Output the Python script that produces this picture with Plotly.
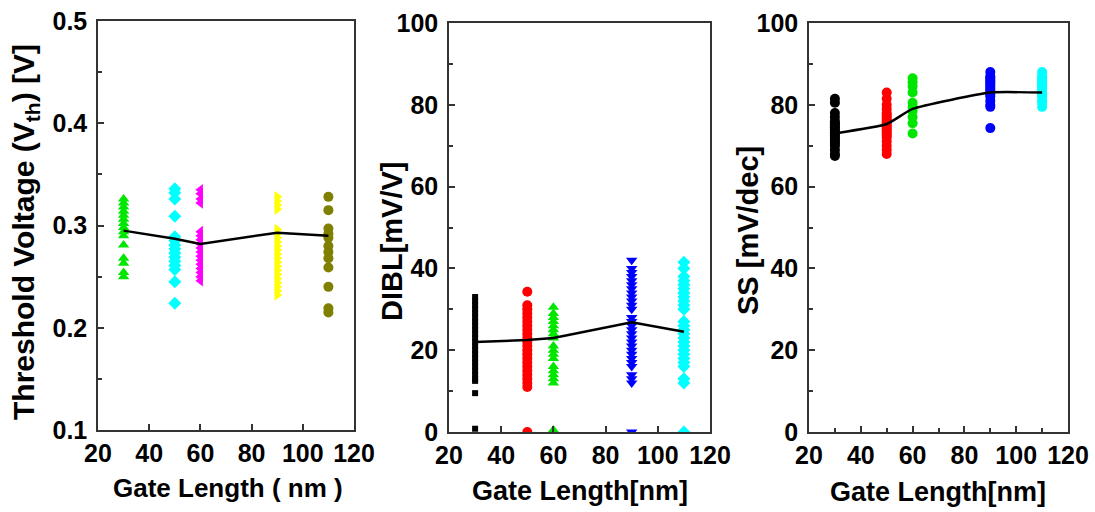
import plotly.graph_objects as go

# ---------------- data ----------------
gate_lengths = [30, 50, 60, 90, 110]

# Panel 1: threshold voltage (V)
vth_30 = [0.326, 0.322, 0.318, 0.314, 0.310, 0.306, 0.302, 0.298, 0.294, 0.290, 0.281, 0.268, 0.263, 0.254, 0.250]
vth_50 = [0.336, 0.332, 0.326, 0.309, 0.289, 0.285, 0.281, 0.277, 0.273, 0.269, 0.265, 0.261, 0.257, 0.245, 0.224]
vth_60 = [0.335, 0.331, 0.326, 0.322, 0.294, 0.290, 0.286, 0.282, 0.278, 0.274, 0.270, 0.266, 0.262, 0.258, 0.254, 0.250, 0.246]
vth_90 = [0.328, 0.324, 0.320, 0.316, 0.296, 0.292, 0.288, 0.284, 0.280, 0.276, 0.272, 0.268, 0.264, 0.260, 0.256,
          0.252, 0.248, 0.244, 0.240, 0.236, 0.232]
vth_110 = [0.328, 0.315, 0.297, 0.292, 0.288, 0.280, 0.274, 0.268, 0.259, 0.240, 0.219, 0.215]
vth_mean = [0.295, 0.287, 0.282, 0.293, 0.290]

# Panel 2: DIBL (mV/V)
dibl_30 = [33, 32, 31, 30, 29, 28, 27, 26, 25, 24, 23, 22, 21, 20, 19, 18, 17, 16, 15, 14, 13, 12.5, 9.5, 0.8]
dibl_50 = [34.3, 31, 30, 29, 28, 27, 26, 25, 24, 23, 22, 21, 20, 19, 18, 17, 16, 15, 14, 13, 12, 11, 0]
dibl_60 = [30.5, 29, 28, 27, 26, 25, 24, 23, 21, 20, 19, 18, 16, 15, 14, 13, 12, 0.5]
dibl_90 = [42, 40, 39, 38, 37, 36, 35, 34, 33, 32, 31, 30, 28, 27, 26, 25, 24, 23, 22, 21, 20, 19, 18, 17, 16,
           14, 13, 12, 0]
dibl_110 = [41.5, 40, 38, 37, 36, 35, 34, 33, 32, 31, 30, 27, 26, 25, 24, 23, 22, 21, 20, 19, 18, 17, 16, 13, 12, 0]
dibl_mean = [22, 22.5, 23, 26.8, 24.5]

# Panel 3: subthreshold swing (mV/dec)
ss_30 = [81.5, 80.5, 78, 77, 76, 75.5, 75, 74.5, 74, 73.5, 73, 72.5, 72, 71.5, 71, 70.5, 70, 69, 68, 67.5]
ss_50 = [83, 81.5, 80, 79, 78, 77.5, 77, 76.5, 76, 75.5, 75, 74.5, 74, 73.5, 73, 72.5, 72, 71, 70, 69, 68]
ss_60 = [86.5, 85.5, 84.5, 83, 80.5, 79.5, 78.5, 77, 75.5, 73]
ss_90 = [88, 87, 86.5, 86, 85.5, 85, 84.5, 84, 83.5, 83, 82.5, 82, 81, 80, 79.5, 74.3]
ss_110 = [88, 87, 86.5, 86, 85.5, 85, 84.5, 84, 83.5, 83, 82.5, 82, 81, 80.5, 79.5]
ss_mean = [73, 75.3, 79, 83, 83]

# ---------------- styles ----------------
FONT = "Liberation Sans, Arial, sans-serif"
GREEN = "#00e600"
CYAN = "#00ffff"
MAGENTA = "#ff00ff"
YELLOW = "#ffff00"
OLIVE = "#7f7f00"
RED = "#ff0000"
BLUE = "#0000ff"
BLACK = "#000000"

fig = go.Figure()


def scatter(xval, ys, color, symbol, axis, size=10):
    fig.add_trace(go.Scatter(
        x=[xval] * len(ys), y=ys, mode="markers", xaxis="x" + axis, yaxis="y" + axis,
        marker=dict(color=color, symbol=symbol, size=size, line=dict(width=0)),
        showlegend=False, cliponaxis=True))


def mean_line(ys, axis, shape="linear", smoothing=1.0):
    fig.add_trace(go.Scatter(
        x=gate_lengths, y=ys, mode="lines", xaxis="x" + axis, yaxis="y" + axis,
        line=dict(color=BLACK, width=2.5, shape=shape, smoothing=smoothing),
        showlegend=False))


# Panel 1
p1 = [(vth_30, GREEN, "triangle-up"), (vth_50, CYAN, "diamond"), (vth_60, MAGENTA, "triangle-left"),
      (vth_90, YELLOW, "triangle-right"), (vth_110, OLIVE, "circle")]
for gl, (ys, c, s) in zip(gate_lengths, p1):
    scatter(gl, ys, c, s, "", 10)
mean_line(vth_mean, "")

# Panel 2
p2 = [(dibl_30, BLACK, "square", 6), (dibl_50, RED, "circle", 10), (dibl_60, GREEN, "triangle-up", 10),
      (dibl_90, BLUE, "triangle-down", 10), (dibl_110, CYAN, "diamond", 10)]
for gl, (ys, c, s, sz) in zip(gate_lengths, p2):
    scatter(gl, ys, c, s, "2", sz)
mean_line(dibl_mean, "2")

# Panel 3
p3 = [(ss_30, BLACK), (ss_50, RED), (ss_60, GREEN), (ss_90, BLUE), (ss_110, CYAN)]
for gl, (ys, c) in zip(gate_lengths, p3):
    scatter(gl, ys, c, "circle", "3", 10)
mean_line(ss_mean, "3", shape="spline", smoothing=0.45)

W, H = 1095, 512


def xdom(l, r):
    return [l / W, r / W]


def ydom(t, b):
    return [(H - b) / H, (H - t) / H]


axis_common = dict(showline=True, mirror=True, linecolor="#333333", linewidth=1.5,
                   ticks="inside", ticklen=6, tickwidth=1.5, tickcolor="#333333",
                   showgrid=False, zeroline=False, automargin=False,
                   tickfont=dict(family=FONT, size=25, color="#000000", weight="bold"))

xa = dict(range=[20, 120], tickmode="linear", tick0=20, dtick=20, **axis_common)

fig.update_layout(
    width=W, height=H, margin=dict(l=0, r=0, t=0, b=0, pad=0, autoexpand=False),
    plot_bgcolor="white", paper_bgcolor="white",
    xaxis=dict(domain=xdom(98, 354), anchor="y", **xa),
    yaxis=dict(domain=ydom(21, 430), anchor="x", range=[0.1, 0.5], tickmode="linear", tick0=0.1, dtick=0.1,
               tickformat=".1f", minor=dict(ticks="inside", ticklen=4, dtick=0.05, tick0=0.1,
                                            tickcolor="#333333"), ticklabelstandoff=4, **axis_common),
    xaxis2=dict(domain=xdom(449, 710), anchor="y2", **xa),
    yaxis2=dict(domain=ydom(23, 432), anchor="x2", range=[0, 100], tickmode="linear", tick0=0, dtick=20,
                minor=dict(ticks="inside", ticklen=4, dtick=10, tickcolor="#333333"), ticklabelstandoff=4,
                **axis_common),
    xaxis3=dict(domain=xdom(809, 1068), anchor="y3",
                minor=dict(ticks="inside", ticklen=4, dtick=10, tickcolor="#333333"), **xa),
    yaxis3=dict(domain=ydom(23, 432), anchor="x3", range=[0, 100], tickmode="linear", tick0=0, dtick=20,
                minor=dict(ticks="inside", ticklen=4, dtick=10, tickcolor="#333333"), ticklabelstandoff=4,
                **axis_common),
)

titles = [
    ("Gate Length ( nm )", 228, 488, 0, 26),
    ("Gate Length[nm]", 580, 491, 0, 27),
    ("Gate Length[nm]", 938, 492, 0, 27),
    ("Threshold Voltage (V<sub>th</sub>) [V]", 25, 232, -90, 30),
    ("DIBL[mV/V]", 392, 241, -90, 29),
    ("SS [mV/dec]", 748, 231, -90, 29),
]
for text, px, py, ang, fs in titles:
    fig.add_annotation(text=text, x=px / W, y=(H - py) / H, xref="paper", yref="paper",
                       xanchor="center", yanchor="middle", textangle=ang, showarrow=False,
                       font=dict(family=FONT, size=fs, color="#000000", weight="bold"))

fig.write_html("out.html")
